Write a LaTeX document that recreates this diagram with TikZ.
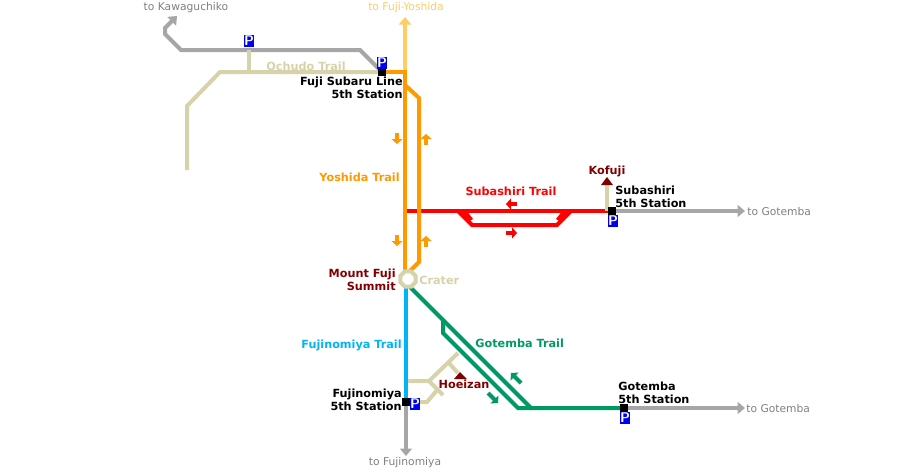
\documentclass[tikz,border=0pt]{standalone}
\usepackage{fontspec}
\setmainfont{DejaVu Sans}
\usetikzlibrary{arrows.meta, shapes.geometric}

\definecolor{roadgray}{HTML}{A6A6A6}
\definecolor{labelgray}{HTML}{808080}
\definecolor{yoshida}{HTML}{FF9900}
\definecolor{yoshidalight}{HTML}{FFCC66}
\definecolor{subashiri}{HTML}{FF0000}
\definecolor{gotemba}{HTML}{009966}
\definecolor{fujinomiya}{HTML}{00B4F5}
\definecolor{trailtan}{HTML}{D6D2AA}
\definecolor{peak}{HTML}{800000}
\definecolor{parking}{HTML}{0000F0}

\begin{document}
\begin{tikzpicture}[x=0.02cm, y=-0.02cm]

\tikzset{
  trail/.style={line width=0.08cm, line join=miter},
  road/.style={trail, color=roadgray, -{Triangle[length=0.15cm, width=0.24cm]}},
  flow/.style={line width=0.08cm, -{Triangle[length=0.1cm, width=0.22cm]}},
  station/.style={draw=none, fill=black, minimum size=0.15cm, inner sep=0pt},
  parkbox/.style={fill=parking, text=white, minimum width=0.19cm, minimum height=0.25cm, inner sep=0pt, font=\fontsize{8pt}{8pt}\selectfont\sffamily\bfseries},
  plain/.style={inner sep=0pt, font=\fontsize{6.1pt}{7.2pt}\selectfont, text=labelgray},
  bold/.style={inner sep=0pt, align=right, font=\fontsize{6.4pt}{7.3pt}\selectfont\bfseries}
}

\useasboundingbox (0,0) rectangle (900,471);

% 1. Stationen
\node[station] (subaru) at (382,72) {};
\node[station] (subashiri5) at (612,211) {};
\node[station] (fujinomiya5) at (406,402) {};
\node[station] (gotemba5) at (624,408) {};

% 2. Freie Enden
\coordinate (kawaguchiko) at (177,16);
\coordinate (fujiyoshida) at (405,17);
\coordinate (ochudoend) at (187,170);
\coordinate (toGotembaA) at (745,211);
\coordinate (toGotembaB) at (745,408);
\coordinate (tofujinomiya) at (406,456);
\coordinate (junction) at (405,72);
\coordinate (summit) at (408,279);
\coordinate (kofujitop) at (607,185);

% 3. Strassen
\draw[road] (subaru.center) -- (360,50) -- (181,50) -- (165,34) -- (165,28) -- (kawaguchiko);
\draw[road, color=yoshidalight] (junction) -- (fujiyoshida);
\draw[road] (subashiri5.center) -- (toGotembaA);
\draw[road] (gotemba5.center) -- (toGotembaB);
\draw[road] (fujinomiya5.center) -- (tofujinomiya);

% 4. Ochudo Trail
\draw[trail, color=trailtan] (ochudoend) -- (187,106) -- (220,72) -- (subaru.center);
\draw[trail, color=trailtan] (249,50) -- (249,72);

% 5. Subashiri Trail
\draw[trail, color=subashiri] (405,211) -- (subashiri5.center);
\draw[trail, color=subashiri] (458,211) -- (472,225) -- (557,225) -- (571,211);
\fill[subashiri] (456,210) -- (466,210) -- (473,219) -- (468,222) -- cycle;
\fill[subashiri] (573,210) -- (563,210) -- (556,219) -- (561,222) -- cycle;
\draw[trail, color=trailtan] (subashiri5.center -| kofujitop) -- (kofujitop);

% 6. Yoshida Trail
\draw[trail, color=yoshida] (subaru.center) -- (junction) -- (405,271);
\draw[trail, color=yoshida] (405,85) -- (419,98) -- (419,262) -- (409,272);

% 7. Fujinomiya Trail und Gotemba Trail
\draw[trail, color=fujinomiya] (406,287) -- (fujinomiya5.center);
\draw[trail, color=gotemba] (410,287) -- (531,408) -- (gotemba5.center);
\draw[trail, color=gotemba] (443,320) -- (443,333) -- (518,408) -- (531,408);

% 8. Hoeizan
\draw[trail, color=trailtan] (408,381) -- (429,381) -- (458,353);
\draw[trail, color=trailtan] (448,362) -- (458,373);
\draw[trail, color=trailtan] (429,381) -- (443,395);
\draw[trail, color=trailtan] (419,402) -- (427,402) -- (438,389);

% 9. Krater
\node[draw=trailtan, line width=0.08cm, fill=white, regular polygon, regular polygon sides=8, minimum size=0.33cm, inner sep=0pt] (crater) at (summit) {};

% 10. Stationen noch einmal oben
\node[station] at (subaru) {};
\node[station] at (subashiri5) {};
\node[station] at (fujinomiya5) {};
\node[station] at (gotemba5) {};

% 11. Gipfel
\fill[peak] (601,185) -- (607,177) -- (613,185) -- cycle;
\fill[peak] (454,379) -- (460,372) -- (467,379) -- cycle;

% 12. Richtungspfeile
\draw[flow, color=yoshida] (397,133) -- (397,144);
\draw[flow, color=yoshida] (426,145) -- (426,134);
\draw[flow, color=yoshida] (397,235) -- (397,246);
\draw[flow, color=yoshida] (426,247) -- (426,236);
\draw[flow, color=subashiri] (517,204) -- (506,204);
\draw[flow, color=subashiri] (506,233) -- (517,233);
\draw[flow, color=gotemba] (488,393) -- (498,403);
\draw[flow, color=gotemba] (521,383) -- (511,373);

% 13. Parkplaetze
\node[parkbox] (parkA) at (249,41) {P};
\node[parkbox] (parkB) at (382,63) {P};
\node[parkbox] (parkC) at (613,221) {P};
\node[parkbox] (parkD) at (415,404) {P};
\node[parkbox] (parkE) at (625,418) {P};

% 14. Beschriftung
\node[plain] (kawaguchikolabel) at (186,8) {to Kawaguchiko};
\node[plain, text=yoshidalight] (yoshidalabel) at (406,8) {to Fuji-Yoshida};
\node[plain, anchor=west] (gotembalabelA) at (747,211) {to Gotemba};
\node[plain, anchor=west] (gotembalabelB) at (746,408) {to Gotemba};
\node[plain] (fujinomiyalabel) at (405,463) {to Fujinomiya};

\node[bold, text=trailtan] (ochudolabel) at (306,66) {Ochudo Trail};
\node[bold, text=yoshida, anchor=east] (yoshidatrail) at (400,177) {Yoshida Trail};
\node[bold, text=subashiri] (subashiritrail) at (511,191) {Subashiri Trail};
\node[bold, text=fujinomiya, anchor=east] (fujinomiyatrail) at (402,345) {Fujinomiya Trail};
\node[bold, text=gotemba, anchor=west] (gotembatrail) at (475,343) {Gotemba Trail};
\node[bold, text=trailtan, anchor=west] (craterlabel) at (419,280) {Crater};

\node[bold, text=peak] (kofuji) at (607,171) {Kofuji};
\node[bold, text=peak] (hoeizan) at (464,384) {Hoeizan};
\node[bold, text=peak, anchor=east] (summitlabel) at (396,280) {Mount Fuji\\Summit};

\node[bold, anchor=east] (subarulabel) at (403,88) {Fuji Subaru Line\\5th Station};
\node[bold, anchor=west, align=left] (subashirilabel) at (615,197) {Subashiri\\5th Station};
\node[bold, anchor=east] (fujinomiyalabelB) at (402,400) {Fujinomiya\\5th Station};
\node[bold, anchor=west, align=left] (gotembalabel) at (618,393) {Gotemba\\5th Station};

\end{tikzpicture}
\end{document}
